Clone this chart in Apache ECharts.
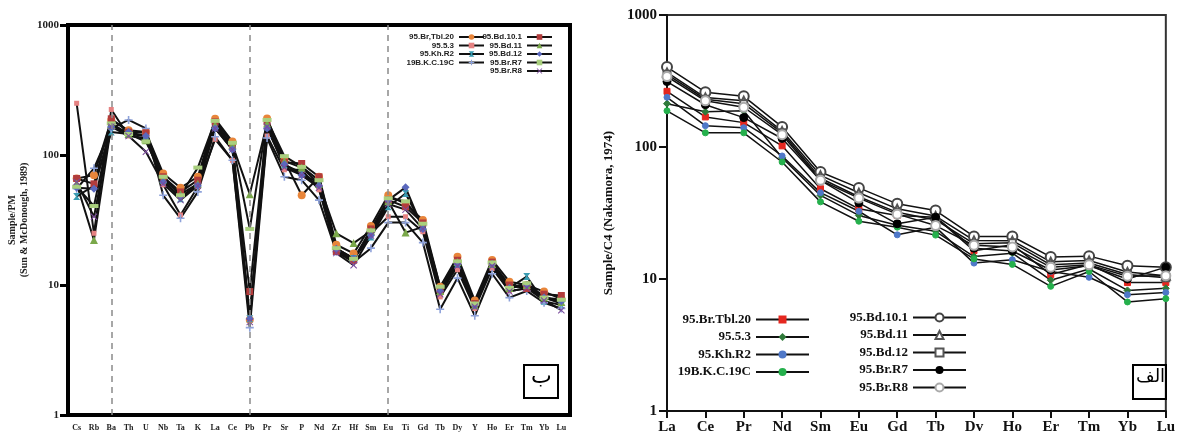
<!DOCTYPE html>
<html>
<head>
<meta charset="utf-8">
<script src="https://cdn.jsdelivr.net/npm/echarts@6/dist/echarts.min.js"></script>
<style>
  html, body { margin: 0; padding: 0; background: #fff; }
  #chart { width: 1178px; height: 436px; }
</style>
</head>
<body>
<div id="chart"></div>
<script>
// ---- Spider diagram (primitive mantle normalised) ----
const pmElements = ['Cs','Rb','Ba','Th','U','Nb','Ta','K','La','Ce','Pb','Pr','Sr','P','Nd','Zr','Hf','Sm','Eu','Ti','Gd','Tb','Dy','Y','Ho','Er','Tm','Yb','Lu'];
const pmDividers = ['Ba','Pb','Eu'];

const pmBrTbl20 = [66, 70, 186, 155, 150, 72, 56, 68, 190, 127, 5.4, 191, 91, 49, 68, 20.4, 17.5, 28.4, 49, 42, 31.6, 9.7, 16.5, 7.6, 15.6, 10.6, 10, 8.9, 7.8];
const pm953     = [250, 25, 224, 140, 135, 59, 34.6, 57, 132, 91, 5.6, 140, 77, 77, 54, 19, 16, 25, 33.5, 33.5, 25.7, 8.1, 13.1, 6.6, 13.4, 9, 9.4, 8, 7.2];
const pmKhR2    = [48, 58, 150, 145, 140, 64, 46, 61, 165, 115, 5.5, 165, 84, 73, 60, 18.5, 16, 23.4, 40, 50.5, 28, 9, 14.5, 7, 14.5, 9.5, 11.6, 7.5, 7];
const pmBKC19C  = [55, 79, 160, 186, 160, 49, 32.6, 52, 138, 91, 4.7, 135, 68, 64, 45, 18, 15, 19.2, 30.2, 30.2, 21.2, 6.5, 11.3, 5.8, 12.2, 8, 9, 7.3, 6.6];
const pmBd101   = [66, 60, 190, 150, 148, 68, 52, 64, 180, 116, 8.9, 180, 88, 86, 68, 18.1, 15.5, 27, 45, 40, 30, 9.2, 15.5, 7.2, 15, 10, 9.4, 8.5, 8.3];
const pmBd11    = [60, 22.2, 170, 145, 130, 65, 50, 60, 170, 120, 50, 175, 90, 80, 60, 25, 21, 26, 44, 25.3, 28, 9, 15, 7, 14.5, 9.5, 10, 8, 7.4];
const pmBd12    = [56, 55, 165, 150, 140, 62, 48, 58, 160, 110, 5.5, 160, 85, 70, 58, 19, 16, 24, 45, 56.4, 27, 9, 14.5, 7, 14.5, 9.5, 10, 8, 7.5];
const pmBrR7    = [57, 40.5, 175, 145, 127, 68, 49, 80, 183, 124, 27, 186, 98, 81, 64, 19.2, 15.9, 26.3, 46.4, 44, 29.6, 9.7, 15.2, 7.2, 14.9, 9.5, 10.3, 8, 7.7];
const pmBrR8    = [62, 33.5, 165, 140, 106, 60, 45, 58, 160, 110, 5.2, 165, 80, 70, 56, 17.6, 14.2, 24, 42, 38, 27, 8.5, 14, 6.8, 14, 8.9, 9.5, 7.6, 6.4];

// ---- REE diagram (chondrite C4 normalised) ----
const reeElements = ['La','Ce','Pr','Nd','Sm','Eu','Gd','Tb','Dv','Ho','Er','Tm','Yb','Lu'];

const reeBrTbl20 = [264, 169, 153, 102, 48.3, 34, 30.3, 29.4, 16.4, 18.2, 10.8, 12.9, 9.4, 9.4];
const ree953     = [213, 185, 188, 82.8, 43, 30.3, 25.5, 23, 14.8, 15.7, 9.8, 11.9, 8.2, 8.5];
const reeKhR2    = [238, 145, 140, 85.5, 45.1, 32.6, 21.6, 24.7, 13.2, 14, 11.4, 10.3, 7.6, 7.9];
const reeBKC19C  = [188, 128, 128, 77, 38.4, 27.4, 24.7, 21.5, 14.2, 12.9, 8.8, 11.4, 6.7, 7.1];
const reeBd101   = [403, 260, 242, 142, 64.6, 49, 37.1, 33, 21, 21, 14.7, 14.9, 12.6, 12.3];
const reeBd11    = [367, 237, 224, 132, 61, 45, 34, 30, 19.6, 19.5, 13.5, 13.8, 11.3, 10.6];
const reeBd12    = [355, 230, 213, 128, 58, 42, 32, 28, 18.5, 18.8, 12.8, 13.2, 10.8, 10.2];
const reeBrR7    = [313, 209, 167, 116, 55.8, 37.7, 26.2, 29.4, 17.1, 16.3, 11.7, 12.6, 10, 12.3];
const reeBrR8    = [342, 224, 200, 124, 56, 41, 31, 25.4, 18, 17.5, 12.3, 12.8, 10.5, 10.6];

const serif = "'Liberation Serif','Times New Roman',serif";
const narrow = "'Liberation Sans Narrow','Arial Narrow','Liberation Sans',sans-serif";

const plus = 'path://M4,0H6V4H10V6H6V10H4V6H0V4H4Z';
const cross = 'path://M1,0L5,4L9,0L10,1L6,5L10,9L9,10L5,6L1,10L0,9L4,5L0,1Z';
const hourglass = 'path://M0,0H10L6,5L10,10H0L4,5Z';

// series names carry a panel prefix so both legends keep their own icons
const pmSeries = [
  { name: 'pm|95.Br,Tbl.20', data: pmBrTbl20, symbol: 'circle', symbolSize: 8, color: '#e8853a' },
  { name: 'pm|95.5.3', data: pm953, symbol: 'rect', symbolSize: 5, color: '#e58282' },
  { name: 'pm|95.Kh.R2', data: pmKhR2, symbol: hourglass, symbolSize: 7, color: '#3a9cb2' },
  { name: 'pm|19B.K.C.19C', data: pmBKC19C, symbol: plus, symbolSize: 8, color: '#8ea2da' },
  { name: 'pm|95.Bd.10.1', data: pmBd101, symbol: 'rect', symbolSize: 7, color: '#b23c3c' },
  { name: 'pm|95.Bd.11', data: pmBd11, symbol: 'triangle', symbolSize: 8, color: '#7aa84a' },
  { name: 'pm|95.Bd.12', data: pmBd12, symbol: 'diamond', symbolSize: 8, color: '#5a68bd' },
  { name: 'pm|95.Br.R7', data: pmBrR7, symbol: 'rect', symbolSize: [9, 4], color: '#a9cf7e' },
  { name: 'pm|95.Br.R8', data: pmBrR8, symbol: cross, symbolSize: 7, color: '#7a4a9c' }
];

const reeSeries = [
  { name: 'ree|95.Br.Tbl.20', data: reeBrTbl20, symbol: 'rect', symbolSize: 6, color: '#e5271f' },
  { name: 'ree|95.5.3', data: ree953, symbol: 'diamond', symbolSize: 7, color: '#2f7a3a' },
  { name: 'ree|95.Kh.R2', data: reeKhR2, symbol: 'circle', symbolSize: 6, color: '#4f78c8' },
  { name: 'ree|19B.K.C.19C', data: reeBKC19C, symbol: 'circle', symbolSize: 6, color: '#25b04c' },
  { name: 'ree|95.Bd.10.1', data: reeBd101, symbol: 'emptyCircle', symbolSize: 10, color: '#444' },
  { name: 'ree|95.Bd.11', data: reeBd11, symbol: 'emptyTriangle', symbolSize: 8, color: '#555' },
  { name: 'ree|95.Bd.12', data: reeBd12, symbol: 'emptyRect', symbolSize: 7, color: '#555' },
  { name: 'ree|95.Br.R7', data: reeBrR7, symbol: 'circle', symbolSize: 8, color: '#000' },
  { name: 'ree|95.Br.R8', data: reeBrR8, symbol: 'emptyCircle', symbolSize: 9, color: '#aaa' }
];

const stripPrefix = n => n.slice(n.indexOf('|') + 1);
const plainNumber = v => String(v);

const series = [];
pmSeries.forEach((s, i) => {
  const item = {
    name: s.name, type: 'line', xAxisIndex: 0, yAxisIndex: 0,
    data: s.data, symbol: s.symbol, symbolSize: s.symbolSize,
    itemStyle: { color: s.color },
    lineStyle: { color: '#111', width: 2 },
    emphasis: { disabled: true }, animation: false
  };
  if (i === 0) {
    item.markLine = {
      silent: true, symbol: ['none', 'none'], label: { show: false },
      lineStyle: { color: '#8a8a8a', type: [6, 5], width: 1.5 },
      data: pmDividers.map(el => ({ xAxis: el }))
    };
  }
  series.push(item);
});
reeSeries.forEach(s => {
  series.push({
    name: s.name, type: 'line', xAxisIndex: 1, yAxisIndex: 1,
    data: s.data, symbol: s.symbol, symbolSize: s.symbolSize,
    itemStyle: { color: s.color, borderColor: s.color },
    lineStyle: { color: '#111', width: 1.5 },
    emphasis: { disabled: true }, animation: false
  });
});

const pmLegendText = { fontFamily: narrow, fontWeight: 'bold', fontSize: 8, color: '#222', lineHeight: 8 };
const reeLegendText = { fontFamily: serif, fontWeight: 'bold', fontSize: 13, color: '#111', lineHeight: 12 };

const option = {
  backgroundColor: '#fff',
  animation: false,
  grid: [
    { left: 68, top: 25, width: 502, height: 390, show: true, borderColor: '#000', borderWidth: 4 },
    { left: 667, top: 15, width: 506, height: 396, show: true, borderColor: '#333', borderWidth: 2 }
  ],
  legend: [
    { data: pmSeries.slice(0, 4).map(s => s.name), formatter: stripPrefix, orient: 'vertical', align: 'right',
      right: 693, top: 33, itemGap: 0.5, itemWidth: 25, itemHeight: 7, padding: 0, textStyle: pmLegendText, selectedMode: false },
    { data: pmSeries.slice(4).map(s => s.name), formatter: stripPrefix, orient: 'vertical', align: 'right',
      right: 625, top: 33, itemGap: 0.5, itemWidth: 25, itemHeight: 7, padding: 0, textStyle: pmLegendText, selectedMode: false },
    { data: reeSeries.slice(0, 4).map(s => s.name), formatter: stripPrefix, orient: 'vertical', align: 'right',
      right: 368, top: 313, itemGap: 4.5, itemWidth: 53, itemHeight: 10, padding: 0, textStyle: reeLegendText, selectedMode: false },
    { data: reeSeries.slice(4).map(s => s.name), formatter: stripPrefix, orient: 'vertical', align: 'right',
      right: 211, top: 311, itemGap: 4.5, itemWidth: 53, itemHeight: 10, padding: 0, textStyle: reeLegendText, selectedMode: false }
  ],
  xAxis: [
    { type: 'category', gridIndex: 0, position: 'bottom', data: pmElements, boundaryGap: true,
      axisLine: { lineStyle: { color: '#000', width: 4 } },
      axisTick: { alignWithLabel: true, length: 6, lineStyle: { color: '#000', width: 3 } },
      axisLabel: { interval: 0, fontFamily: serif, fontWeight: 'bold', fontSize: 8, color: '#222', margin: 9 },
      splitLine: { show: false } },
    { type: 'category', gridIndex: 1, position: 'bottom', data: reeElements, boundaryGap: false,
      axisLine: { lineStyle: { color: '#111', width: 2 } },
      axisTick: { length: 7, lineStyle: { color: '#111', width: 2 } },
      axisLabel: { interval: 0, fontFamily: serif, fontWeight: 'bold', fontSize: 15, color: '#111', margin: 9 },
      splitLine: { show: false } }
  ],
  yAxis: [
    { type: 'log', gridIndex: 0, position: 'left', logBase: 10, min: 1, max: 1000,
      axisLine: { show: true, lineStyle: { color: '#000', width: 4 } },
      axisTick: { show: true, length: 8, lineStyle: { color: '#000', width: 3 } },
      axisLabel: { fontFamily: serif, fontWeight: 'bold', fontSize: 11, color: '#222', margin: 9, formatter: plainNumber },
      splitLine: { show: false },
      name: 'Sample/PM\n(Sun & McDonough, 1989)', nameLocation: 'middle', nameRotate: 90, nameGap: 38,
      nameTextStyle: { fontFamily: serif, fontWeight: 'bold', fontSize: 10, color: '#222', lineHeight: 12 } },
    { type: 'log', gridIndex: 1, position: 'left', logBase: 10, min: 1, max: 1000,
      axisLine: { show: true, lineStyle: { color: '#111', width: 2 } },
      axisTick: { show: true, length: 8, lineStyle: { color: '#111', width: 2 } },
      axisLabel: { fontFamily: serif, fontWeight: 'bold', fontSize: 15, color: '#111', margin: 10, formatter: plainNumber },
      splitLine: { show: false },
      name: 'Sample/C4 (Nakamora, 1974)', nameLocation: 'middle', nameRotate: 90, nameGap: 52,
      nameTextStyle: { fontFamily: serif, fontWeight: 'bold', fontSize: 13, color: '#111' } }
  ],
  graphic: [
    { type: 'rect', left: 523, top: 364, shape: { width: 34, height: 33 },
      style: { fill: 'transparent', stroke: '#000', lineWidth: 2 }, z: 100 },
    { type: 'text', left: 531, top: 366, style: { text: 'ب', font: '22px "DejaVu Sans"', fill: '#000' }, z: 100 },
    { type: 'rect', left: 1132, top: 364, shape: { width: 33, height: 34 },
      style: { fill: 'transparent', stroke: '#000', lineWidth: 2 }, z: 100 },
    { type: 'text', left: 1136, top: 368, style: { text: 'الف', font: '18px "DejaVu Sans"', fill: '#000' }, z: 100 }
  ],
  series: series
};

const chart = echarts.init(document.getElementById('chart'), null, { renderer: 'canvas' });
chart.setOption(option);
</script>
</body>
</html>
